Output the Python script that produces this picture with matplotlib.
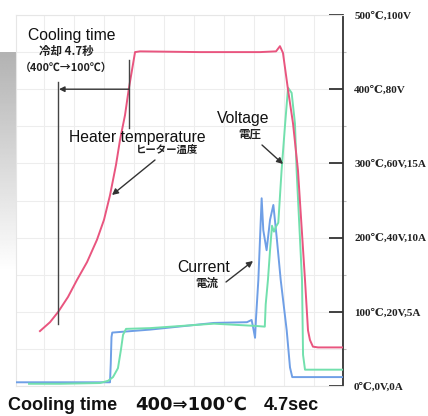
import numpy as np
import matplotlib
matplotlib.use("Agg")
import matplotlib.pyplot as plt
from matplotlib.ticker import MultipleLocator

# ---------------- data (time in s, physical units) ----------------
heater_t = [1.73, 2.40, 2.95, 3.60, 4.20, 4.87, 5.53, 6.00, 6.40, 6.80, 7.07, 7.40, 7.65,
            8.07, 8.40, 12.40, 16.40, 17.47, 17.73, 17.93, 18.27, 18.60, 18.93, 19.40,
            19.60, 19.73, 19.93, 20.27, 21.93]
heater_T = [74, 86, 100, 120, 143, 167, 197, 224, 257, 298, 332, 365, 400,
            450, 451, 450, 450, 451, 458, 449, 399, 354, 291, 143,
            75, 62, 53, 52, 52]

voltage_t = [1.0, 3.07, 5.73, 6.27, 6.60, 6.93, 7.13, 7.27, 7.47, 9.07, 13.33, 16.07,
             16.72, 16.78, 16.93, 17.07, 17.20, 17.33, 17.47, 17.62, 17.84, 18.07, 18.27,
             18.51, 18.73, 18.84, 19.20, 19.27, 19.40, 21.93]
voltage_V = [0.6, 0.6, 0.8, 1.4, 2.4, 4.8, 9.8, 13.8, 15.4, 15.6, 16.8, 16.2,
             16.0, 22.0, 28.6, 36.6, 43.2, 41.6, 43.0, 44.0, 58.2, 70.4, 80.4,
             79.0, 70.8, 58.2, 28.6, 8.4, 4.4, 4.4]

current_t = [0.13, 6.40, 6.45, 6.50, 6.55, 9.07, 13.33, 15.53, 15.84, 15.97, 16.07, 16.13,
             16.29, 16.51, 16.62, 16.84, 17.07, 17.29, 17.51, 17.78, 18.18, 18.40, 18.55, 21.93]
current_A = [0.25, 0.25, 1.5, 3.3, 3.6, 3.8, 4.25, 4.3, 4.45, 3.8, 3.25, 4.5,
             7.15, 12.65, 10.5, 9.15, 11.2, 12.2, 10.05, 7.15, 3.75, 1.25, 0.6, 0.6]

tick_values = [0, 100, 200, 300, 400, 500]
tick_labels = ["0℃,0V,0A", "100℃,20V,5A", "200℃,40V,10A", "300℃,60V,15A",
               "400℃,80V", "500℃,100V"]

cool_start, cool_end = 2.95, 7.65   # 100℃ and 400℃ points (4.7 s)

V_SCALE = 5.0    # 100 V -> 500 on the common scale
A_SCALE = 20.0   # 5 A  -> 100 on the common scale

W, H = 428, 416
def P(px, py):
    return (px / W, 1 - py / H)

fig = plt.figure(figsize=(W / 100, H / 100), dpi=100)
fig.patch.set_facecolor("white")

# gray gradient decoration on the left
ag = fig.add_axes([0, (H - 272) / H, 16 / W, 220 / H])
grad = np.linspace(0.70, 1.0, 200)[:, None] * np.ones((1, 4))
ag.imshow(grad, cmap="gray", vmin=0, vmax=1, aspect="auto")
ag.axis("off")

ax = fig.add_axes([16 / W, 30 / H, 327 / W, 371 / H])
ax.set_xlim((16 - 14) / 15, (343 - 14) / 15)
ax.set_ylim(0, 500)

ax.set_xticks(np.arange(2, 21, 2))
ax.tick_params(axis="x", length=0, labelbottom=False)
ax.yaxis.set_minor_locator(MultipleLocator(50))
ax.grid(True, which="major", color="#ededed", lw=0.8)
ax.grid(True, which="minor", axis="y", color="#ededed", lw=0.8)
ax.set_axisbelow(True)

for s in ["top", "left", "bottom"]:
    ax.spines[s].set_color("#e6e6e6")
    ax.spines[s].set_linewidth(0.8)
ax.spines["right"].set_color("#333333")
ax.spines["right"].set_linewidth(1.3)

ax.yaxis.tick_right()
ax.set_yticks(tick_values)
ax.set_yticklabels(tick_labels)
ax.tick_params(axis="y", which="major", direction="in", length=10, width=1.3,
               color="#333333", pad=8, labelsize=8, labelcolor="#222222")
ax.tick_params(axis="y", which="minor", direction="out", length=2, width=0.8,
               color="#bbbbbb")
for lab in ax.get_yticklabels():
    lab.set_fontfamily(["Liberation Serif", "DejaVu Serif", "DejaVu Sans"])
    lab.set_fontweight("bold")

# data lines
ax.plot(current_t, np.array(current_A) * A_SCALE, color="#6f9fe6", lw=1.4, zorder=3)
ax.plot(voltage_t, np.array(voltage_V) * V_SCALE, color="#72e0ad", lw=1.4, zorder=3)
ax.plot(heater_t, heater_T, color="#e9557f", lw=1.4, zorder=4)

# cooling-time marker lines
ax.plot([cool_start, cool_start], [84, 410], color="#444444", lw=1.0, zorder=5)
ax.plot([cool_end, cool_end], [348, 440], color="#444444", lw=1.0, zorder=5)
ax.annotate("", xy=(cool_start + 0.05, 400), xytext=(cool_end, 400),
            xycoords="data",
            arrowprops=dict(arrowstyle="-|>", color="#333333", lw=1.0,
                            mutation_scale=8, shrinkA=0, shrinkB=0), zorder=5)

en = ["Liberation Sans", "DejaVu Sans"]
jp = ["Noto Sans CJK JP", "DejaVu Sans"]

fig.text(*P(72, 40), "Cooling time", ha="center", va="baseline", fontsize=11.3,
         family=en, color="#111111")
fig.text(*P(66, 52), "冷却 4.7秒", ha="center", va="center", fontsize=8.3,
         family=jp, weight="bold", color="#222222")
fig.text(*P(66, 68), "（400℃→100℃）", ha="center", va="center", fontsize=7.8,
         family=jp, weight="bold", color="#222222")

fig.text(*P(137.5, 142), "Heater temperature", ha="center", va="baseline",
         fontsize=11.3, family=en, color="#111111")
fig.text(*P(167, 150), "ヒーター温度", ha="center", va="center", fontsize=7.5,
         family=jp, weight="bold", color="#222222")

fig.text(*P(243, 123), "Voltage", ha="center", va="baseline", fontsize=11.3,
         family=en, color="#111111")
fig.text(*P(250, 134), "電圧", ha="center", va="center", fontsize=8.3,
         family=jp, weight="bold", color="#222222")

fig.text(*P(203.5, 272), "Current", ha="center", va="baseline", fontsize=11.3,
         family=en, color="#111111")
fig.text(*P(207, 283), "電流", ha="center", va="center", fontsize=8.3,
         family=jp, weight="bold", color="#222222")

arrow_kw = dict(arrowstyle="-|>", color="#333333", lw=1.0, mutation_scale=9,
                shrinkA=0, shrinkB=0)
for (x0, y0), (x1, y1) in [((155, 160), (112, 195)),
                           ((262, 145), (283, 164)),
                           ((226, 282), (253, 261))]:
    fig.add_artist(matplotlib.patches.FancyArrowPatch(
        P(x0, y0), P(x1, y1), transform=fig.transFigure, **arrow_kw))

# bottom caption
fig.text(*P(8, 410), "Cooling time", ha="left", va="baseline", fontsize=13,
         family=en, weight="bold", color="#111111")
fig.text(*P(135, 410), "400⇒100℃", ha="left", va="baseline", fontsize=13,
         family=["DejaVu Sans"], weight="bold", color="#111111")
fig.text(*P(264, 410), "4.7sec", ha="left", va="baseline", fontsize=13,
         family=en, weight="bold", color="#111111")

fig.savefig("out.png", dpi=100, facecolor="white")
